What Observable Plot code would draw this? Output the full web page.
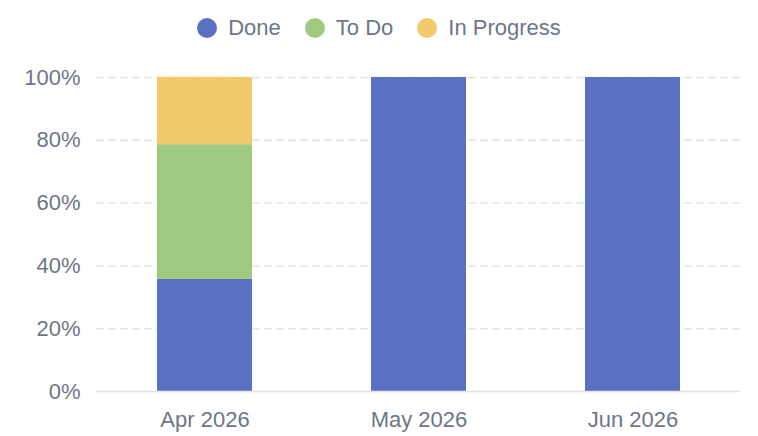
<!DOCTYPE html>
<html>
<head>
<meta charset="utf-8">
<script src="https://cdn.jsdelivr.net/npm/d3@7"></script>
<script src="https://cdn.jsdelivr.net/npm/@observablehq/plot@0.6"></script>
<style>
  html, body { margin: 0; padding: 0; background: #ffffff; }
  body { width: 758px; height: 436px; overflow: hidden; font-family: "Liberation Sans", Arial, Helvetica, sans-serif; }
  #legend { height: 50px; display: flex; justify-content: center; align-items: center; padding-top: 6px; box-sizing: border-box; font-size: 22px; color: #6e7687; }
  .item { display: flex; align-items: center; margin: 0 12px; }
  .dot { width: 20px; height: 20px; border-radius: 50%; margin-right: 11px; }
</style>
</head>
<body>
<div id="legend"></div>
<div id="chart"></div>
<script>
const months = ["Apr 2026", "May 2026", "Jun 2026"];
const statuses = ["Done", "To Do", "In Progress"];
const colors = ["#5a70c1", "#9fca7f", "#f2c96b"];
const donePct = [35.7, 100, 100];
const todoPct = [42.9, 0, 0];
const inProgressPct = [21.4, 0, 0];
const yTicks = [0, 20, 40, 60, 80, 100];

const series = [donePct, todoPct, inProgressPct];
const data = [];
statuses.forEach((s, i) => months.forEach((m, j) => data.push({month: m, status: s, value: series[i][j]})));

const legend = document.getElementById("legend");
statuses.forEach((s, i) => {
  const it = document.createElement("div");
  it.className = "item";
  it.innerHTML = `<span class="dot" style="background:${colors[i]}"></span><span>${s}</span>`;
  legend.appendChild(it);
});

const chart = Plot.plot({
  width: 758,
  height: 386,
  marginTop: 27,
  marginBottom: 45,
  marginLeft: 96,
  marginRight: 18,
  style: {fontFamily: '"Liberation Sans", Arial, Helvetica, sans-serif', fontSize: "22px", color: "#6e7687", background: "#ffffff"},
  x: {domain: months, paddingInner: 0.557, paddingOuter: 0.2785, label: null},
  y: {domain: [0, 100], label: null},
  color: {domain: statuses, range: colors},
  marks: [
    Plot.gridY(yTicks.filter(d => d > 0), {stroke: "#e3e4ea", strokeOpacity: 1, strokeWidth: 1.5, strokeDasharray: "8,4"}),
    Plot.barY(data, Plot.stackY({x: "month", y: "value", fill: "status", order: statuses})),
    Plot.ruleY([0], {stroke: "#e3e4ea", strokeWidth: 1.5}),
    Plot.axisY(yTicks, {tickSize: 0, tickPadding: 16, tickFormat: d => d + "%", fill: "#6e7687", fontSize: 22, label: null}),
    Plot.axisX({tickSize: 0, tickPadding: 20, fill: "#6e7687", fontSize: 22, label: null})
  ]
});
document.getElementById("chart").appendChild(chart);
</script>
</body>
</html>
